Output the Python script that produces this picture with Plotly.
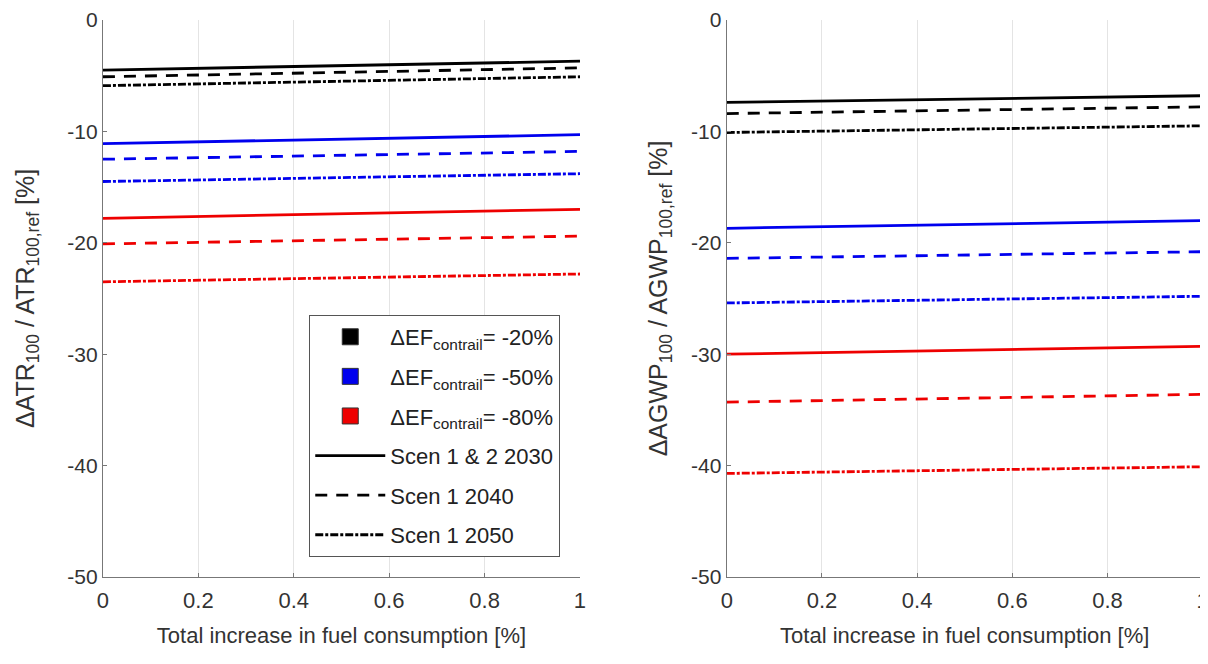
import plotly.graph_objects as go

x_fuel = [0, 1]

# Left panel: ΔATR100 / ATR100,ref [%]
atr_black_2030 = [-4.5, -3.7]
atr_black_2040 = [-5.1, -4.3]
atr_black_2050 = [-5.9, -5.1]
atr_blue_2030 = [-11.1, -10.3]
atr_blue_2040 = [-12.5, -11.8]
atr_blue_2050 = [-14.5, -13.8]
atr_red_2030 = [-17.8, -17.0]
atr_red_2040 = [-20.1, -19.4]
atr_red_2050 = [-23.5, -22.8]

# Right panel: ΔAGWP100 / AGWP100,ref [%]
agwp_black_2030 = [-7.4, -6.8]
agwp_black_2040 = [-8.4, -7.8]
agwp_black_2050 = [-10.1, -9.5]
agwp_blue_2030 = [-18.7, -18.0]
agwp_blue_2040 = [-21.4, -20.8]
agwp_blue_2050 = [-25.4, -24.8]
agwp_red_2030 = [-30.0, -29.3]
agwp_red_2040 = [-34.3, -33.6]
agwp_red_2050 = [-40.7, -40.1]

x_ticks = [0, 0.2, 0.4, 0.6, 0.8, 1]
x_tick_labels = ["0", "0.2", "0.4", "0.6", "0.8", "1"]
y_ticks = [0, -10, -20, -30, -40, -50]
y_tick_labels = ["0", "-10", "-20", "-30", "-40", "-50"]

colors = {"black": "#000000", "blue": "#0000ee", "red": "#ee0000"}
dashes = {"2030": "solid", "2040": "12px,9px", "2050": "8px,2px,3px,2px"}

left = {
    ("black", "2030"): atr_black_2030, ("black", "2040"): atr_black_2040, ("black", "2050"): atr_black_2050,
    ("blue", "2030"): atr_blue_2030, ("blue", "2040"): atr_blue_2040, ("blue", "2050"): atr_blue_2050,
    ("red", "2030"): atr_red_2030, ("red", "2040"): atr_red_2040, ("red", "2050"): atr_red_2050,
}
right = {
    ("black", "2030"): agwp_black_2030, ("black", "2040"): agwp_black_2040, ("black", "2050"): agwp_black_2050,
    ("blue", "2030"): agwp_blue_2030, ("blue", "2040"): agwp_blue_2040, ("blue", "2050"): agwp_blue_2050,
    ("red", "2030"): agwp_red_2030, ("red", "2040"): agwp_red_2040, ("red", "2050"): agwp_red_2050,
}

fig = go.Figure()
for data, xa, ya in [(left, "x", "y"), (right, "x2", "y2")]:
    for (c, yr), vals in data.items():
        fig.add_trace(go.Scatter(
            x=x_fuel, y=vals, mode="lines", xaxis=xa, yaxis=ya,
            line=dict(color=colors[c], width=2.8, dash=dashes[yr]),
            showlegend=False, hoverinfo="skip"))

# Legend entries
i = 0
for c, pct in [("black", "-20%"), ("blue", "-50%"), ("red", "-80%")]:
    fig.add_trace(go.Scatter(
        x=[None], y=[None], mode="markers", xaxis="x", yaxis="y",
        marker=dict(symbol="square", size=17, color=colors[c], line=dict(color="#333", width=1)),
        name="ΔEF<sub>contrail</sub>= " + pct, legendgroup="g%d" % i))
    i += 1
for yr, label in [("2030", "Scen 1 & 2 2030"), ("2040", "Scen 1 2040"), ("2050", "Scen 1 2050")]:
    fig.add_trace(go.Scatter(
        x=[None], y=[None], mode="lines", xaxis="x", yaxis="y",
        line=dict(color="#000", width=2.8, dash=dashes[yr]),
        name=label, legendgroup="g%d" % i))
    i += 1

font_family = "Liberation Sans, Arial, sans-serif"
axis_common = dict(
    showline=True, linecolor="#777", linewidth=1.2, ticks="inside", ticklen=4,
    tickcolor="#777", zeroline=False, automargin=False, ticklabeloverflow="allow",
)
xfont = dict(size=22, color="#333", family=font_family)
yfont = dict(size=21, color="#333", family=font_family)
fig.update_layout(
    width=1208, height=664,
    margin=dict(l=0, r=0, t=0, b=0),
    paper_bgcolor="white", plot_bgcolor="white",
    font=dict(family=font_family, color="#333"),
    xaxis=dict(domain=[0.0786, 0.4735], range=[0, 1], tickvals=x_ticks, ticktext=x_tick_labels,
               showgrid=True, gridcolor="#e4e4e4", anchor="y", tickfont=xfont, ticklabelstandoff=3,
               title=dict(text="Total increase in fuel consumption [%]", font=dict(size=22), standoff=16),
               **axis_common),
    yaxis=dict(domain=[0.143, 0.982], range=[-50, 0], tickvals=y_ticks, ticktext=y_tick_labels,
               showgrid=False, anchor="x", tickfont=yfont,
               title=dict(text="ΔATR<sub>100</sub> / ATR<sub>100,ref</sub> [%]", font=dict(size=25), standoff=25),
               **axis_common),
    xaxis2=dict(domain=[0.595, 0.989], range=[0, 1], tickvals=x_ticks, ticktext=x_tick_labels,
                showgrid=True, gridcolor="#e4e4e4", anchor="y2", tickfont=xfont, ticklabelstandoff=3,
                title=dict(text="Total increase in fuel consumption [%]", font=dict(size=22), standoff=16),
                **axis_common),
    yaxis2=dict(domain=[0.143, 0.982], range=[-50, 0], tickvals=y_ticks, ticktext=y_tick_labels,
                showgrid=False, anchor="x2", tickfont=yfont,
                title=dict(text="ΔAGWP<sub>100</sub> / AGWP<sub>100,ref</sub> [%]", font=dict(size=25), standoff=16),
                **axis_common),
    legend=dict(x=0.457, y=0.538, xanchor="right", yanchor="top",
                bgcolor="white", bordercolor="#555", borderwidth=1.2,
                font=dict(size=22, color="#222", family=font_family),
                itemwidth=70, tracegroupgap=8),
)

fig.write_html("out.html")
